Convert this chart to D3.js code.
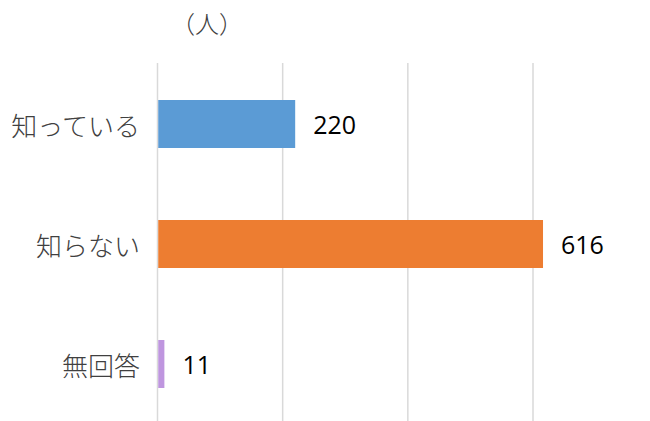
<!DOCTYPE html>
<html>
<head>
<meta charset="utf-8">
<script src="https://cdn.jsdelivr.net/npm/d3@7"></script>
<style>
  body { margin: 0; background: #fff; }
  svg { display: block; }
</style>
</head>
<body>
<div id="chart"></div>
<script>
// Data
const categories = ["知っている", "知らない", "無回答"];
const counts = [220, 616, 11];
const barColors = ["#5B9BD5", "#ED7D31", "#BF96DF"];
const gridTicks = [0, 200, 400, 600];
const unitLabel = "（人）";

const width = 650;
const height = 421;

const svg = d3.select("#chart")
    .append("svg")
    .attr("width", width)
    .attr("height", height);

// Scales
const x = d3.scaleLinear()
    .domain([0, 600])
    .range([157.5, 533]);

const y = d3.scaleBand()
    .domain(categories)
    .range([64, 424])
    .paddingInner(0.6)
    .paddingOuter(0.3);

// Gridlines
svg.selectAll(".grid")
    .data(gridTicks)
    .enter()
    .append("line")
    .attr("class", "grid")
    .attr("x1", d => x(d))
    .attr("x2", d => x(d))
    .attr("y1", 63)
    .attr("y2", height)
    .attr("stroke", "#D9D9D9")
    .attr("stroke-width", 1.5);

// Bars
svg.selectAll(".bar")
    .data(categories)
    .enter()
    .append("rect")
    .attr("class", "bar")
    .attr("x", x(0) + 0.75)
    .attr("y", d => y(d))
    .attr("width", (d, i) => x(counts[i]) - x(0) - 0.75)
    .attr("height", y.bandwidth())
    .attr("fill", (d, i) => barColors[i]);

// Category labels
svg.selectAll(".cat-label")
    .data(categories)
    .enter()
    .append("text")
    .attr("class", "cat-label")
    .attr("x", 140)
    .attr("y", d => y(d) + y.bandwidth() / 2)
    .attr("text-anchor", "end")
    .attr("dominant-baseline", "central")
    .attr("font-family", "'Noto Sans CJK JP', sans-serif")
    .attr("font-weight", 300)
    .attr("font-size", 26)
    .attr("fill", "#404040")
    .text(d => d);

// Value labels
svg.selectAll(".val-label")
    .data(categories)
    .enter()
    .append("text")
    .attr("class", "val-label")
    .attr("x", (d, i) => x(counts[i]) + 18)
    .attr("y", d => y(d) + y.bandwidth() / 2)
    .attr("dominant-baseline", "central")
    .attr("font-family", "'Open Sans', sans-serif")
    .attr("font-size", 25)
    .attr("fill", "#000")
    .text((d, i) => counts[i]);

// Unit label
svg.append("text")
    .attr("x", 207)
    .attr("y", 22)
    .attr("text-anchor", "middle")
    .attr("dominant-baseline", "central")
    .attr("font-family", "'Noto Sans CJK JP', sans-serif")
    .attr("font-weight", 300)
    .attr("font-size", 24)
    .attr("fill", "#404040")
    .text(unitLabel);
</script>
</body>
</html>
